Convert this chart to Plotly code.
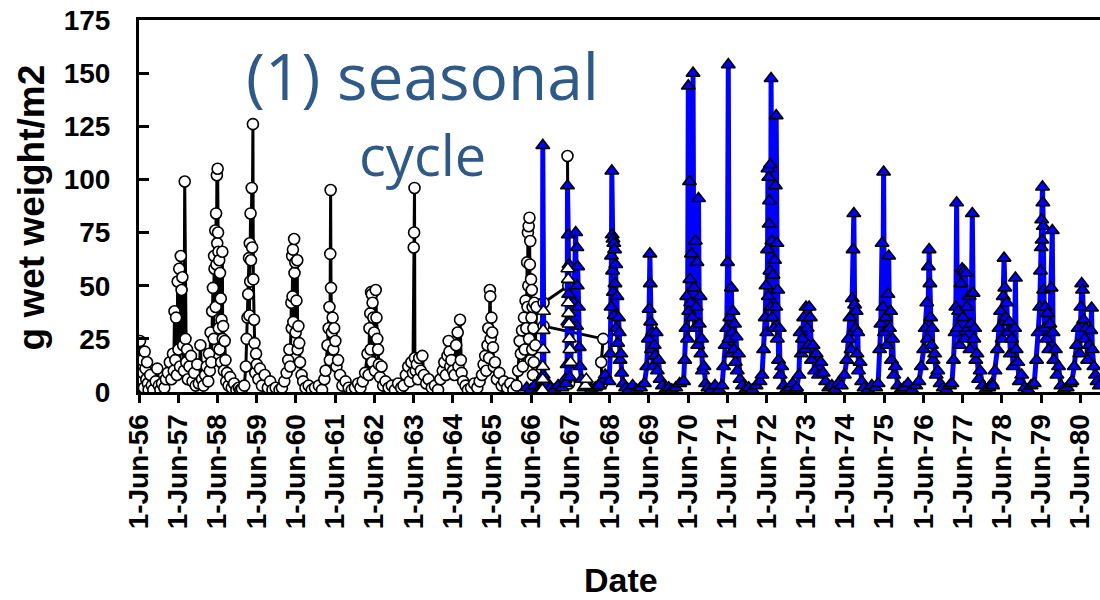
import datetime as dt
import plotly.graph_objects as go

# ---------------- data (decimal year, g wet weight/m2) ----------------
circ_year = [
    1956.44, 1956.46, 1956.48, 1956.50, 1956.52, 1956.54, 1956.56, 1956.58, 1956.60, 1956.62,
    1956.64, 1956.66, 1956.70, 1956.74, 1956.78, 1956.84, 1956.88, 1956.92, 1956.96, 1957.00,
    1957.06, 1957.10, 1957.15, 1957.20, 1957.24,
    1957.28, 1957.30, 1957.32, 1957.34, 1957.36, 1957.38, 1957.40, 1957.42, 1957.44, 1957.46,
    1957.48, 1957.50, 1957.52, 1957.54, 1957.56, 1957.58, 1957.60, 1957.62, 1957.64, 1957.66,
    1957.70, 1957.74, 1957.78, 1957.82, 1957.86, 1957.90, 1957.94, 1957.98, 1958.02, 1958.06,
    1958.10,
    1958.14, 1958.18, 1958.20, 1958.22, 1958.24, 1958.26, 1958.28, 1958.30, 1958.32, 1958.33,
    1958.34, 1958.36, 1958.37, 1958.38, 1958.39, 1958.40, 1958.41, 1958.42, 1958.43, 1958.44,
    1958.45, 1958.46, 1958.47, 1958.48, 1958.50, 1958.51, 1958.52, 1958.54, 1958.55, 1958.56,
    1958.58, 1958.60, 1958.62, 1958.64, 1958.66, 1958.70, 1958.74, 1958.78, 1958.84, 1958.90,
    1958.96, 1959.00,
    1959.04, 1959.10, 1959.14, 1959.16, 1959.18, 1959.20, 1959.22, 1959.23, 1959.24, 1959.25,
    1959.26, 1959.27, 1959.29, 1959.30, 1959.32, 1959.33, 1959.35, 1959.36, 1959.38, 1959.40,
    1959.42, 1959.46, 1959.50, 1959.55, 1959.62, 1959.70, 1959.76, 1959.82, 1959.90, 1960.00,
    1960.06, 1960.12, 1960.18, 1960.22, 1960.25, 1960.27, 1960.30, 1960.31, 1960.32, 1960.33,
    1960.34, 1960.35, 1960.37, 1960.38, 1960.40, 1960.41, 1960.43, 1960.45, 1960.46, 1960.48,
    1960.50, 1960.52, 1960.56, 1960.60, 1960.66, 1960.74, 1960.82, 1960.90, 1961.00, 1961.08,
    1961.14, 1961.17, 1961.22, 1961.25, 1961.27, 1961.28, 1961.29, 1961.30, 1961.31, 1961.33,
    1961.35, 1961.37, 1961.39, 1961.42, 1961.45, 1961.49, 1961.54, 1961.60, 1961.68, 1961.76,
    1961.84, 1961.92, 1962.00, 1962.06, 1962.12,
    1962.18, 1962.24, 1962.27, 1962.29, 1962.31, 1962.32, 1962.33, 1962.35, 1962.36, 1962.37,
    1962.39, 1962.41, 1962.43, 1962.45, 1962.47, 1962.49, 1962.51, 1962.53, 1962.56, 1962.60,
    1962.64, 1962.70, 1962.78, 1962.86, 1962.94, 1963.02, 1963.10,
    1963.16, 1963.22, 1963.28, 1963.32, 1963.36, 1963.40, 1963.42, 1963.43, 1963.44, 1963.45,
    1963.47, 1963.50, 1963.53, 1963.56, 1963.60, 1963.64, 1963.68, 1963.74, 1963.80, 1963.88,
    1963.96, 1964.04,
    1964.10, 1964.16, 1964.20, 1964.24, 1964.28, 1964.31, 1964.33, 1964.35, 1964.38, 1964.42,
    1964.46, 1964.50, 1964.54, 1964.56, 1964.60, 1964.62, 1964.64, 1964.68, 1964.74, 1964.80,
    1964.88, 1964.96, 1965.04,
    1965.10, 1965.16, 1965.20, 1965.24, 1965.27, 1965.30, 1965.32, 1965.34, 1965.36, 1965.37,
    1965.38, 1965.40, 1965.42, 1965.44, 1965.46, 1965.49, 1965.54, 1965.60, 1965.66, 1965.72,
    1965.80, 1965.88, 1965.96, 1966.04,
    1966.08, 1966.12, 1966.15, 1966.18, 1966.20, 1966.23, 1966.25, 1966.27, 1966.29, 1966.31,
    1966.32, 1966.33, 1966.34, 1966.35, 1966.36, 1966.37, 1966.38, 1966.39, 1966.40, 1966.41,
    1966.42, 1966.43, 1966.44, 1966.45, 1966.46, 1966.47, 1966.48, 1966.49, 1966.52, 1966.55,
    1966.73, 1967.36, 1967.34, 1967.38,
    1966.73, 1966.73, 1968.25, 1968.20, 1968.22,
]
circ_val = [
    24, 12, 5, 15, 9, 2, 19, 11, 6, 14,
    4, 1, 8, 3, 1, 5, 11, 3, 1, 4,
    2, 6, 9, 14, 6,
    18, 10, 38, 15, 35, 8, 52, 20, 58, 12,
    64, 48, 54, 22, 10, 99, 25, 14, 20, 6,
    12, 17, 5, 9, 3, 13, 4, 22, 6, 3,
    8,
    12, 5, 18, 10, 28, 14, 38, 49, 25, 64,
    58, 76, 40, 84, 60, 102, 70, 105, 75, 66,
    30, 62, 20, 56, 44, 14, 34, 66, 25, 31,
    10, 24, 15, 5, 9, 3, 7, 2, 4, 1,
    2, 1,
    1.5, 3, 12, 25, 35, 46, 63, 36, 70, 52,
    84, 62, 96, 68, 126, 53, 34, 23, 9, 18,
    13, 6, 11, 3, 8, 2, 5, 1, 2, 1,
    2, 5, 9, 15, 20, 12, 42, 30, 64, 45,
    67, 33, 72, 56, 61, 28, 43, 62, 20, 31,
    23, 14, 8, 5, 2, 3, 1, 2, 3, 1,
    6, 10, 22, 30, 40, 15, 65, 95, 49, 28,
    35, 20, 30, 24, 12, 15, 8, 3, 5, 2,
    1, 2, 4, 2, 5,
    9, 18, 8, 30, 37, 20, 47, 46, 14, 42,
    35, 28, 10, 48, 35, 25, 20, 13, 7, 12,
    3, 5, 2, 3, 1, 4, 2,
    3, 8, 12, 5, 14, 9, 68, 75, 96, 16,
    10, 13, 6, 16, 10, 17, 8, 4, 6, 2,
    3, 1,
    6, 10, 14, 8, 17, 24, 19, 12, 15, 10,
    8, 22, 28, 12, 34, 15, 9, 5, 3, 1,
    2, 4, 2,
    5, 8, 13, 17, 10, 22, 30, 16, 48, 45,
    25, 35, 28, 21, 12, 14, 6, 9, 3, 5,
    2, 4, 1, 3,
    10, 24, 18, 29, 12, 35, 20, 43, 30, 61,
    40, 75, 50, 78, 25, 82, 60, 71, 15, 53,
    35, 48, 20, 40, 8, 30, 14, 42, 22, 40,
    42, 50, 111, 4,
    None, 31, 25, 14, 4,
]

wtri_year = [1966.70, 1966.71, 1966.71, 1966.72, 1966.72, 1966.73,
             1967.35, 1967.36, 1967.36, 1967.37, 1967.38, 1967.39, 1967.40, 1967.42,
             1967.80, 1967.82]
wtri_val = [1, 6, 12, 20, 29, 38,
            58, 53, 42, 37, 32, 25, 20, 14,
            3, 6]

blue_year = [
    1966.30, 1966.40, 1966.50, 1966.60, 1966.68, 1966.70, 1966.71, 1966.72, 1966.74, 1966.78,
    1966.84, 1966.90, 1967.00, 1967.10, 1967.20, 1967.28,
    1967.30, 1967.33, 1967.34, 1967.35, 1967.36, 1967.37, 1967.38, 1967.40, 1967.50, 1967.55,
    1967.57, 1967.58, 1967.59, 1967.60, 1967.62, 1967.64, 1967.66, 1967.70, 1967.76, 1967.84,
    1967.95, 1968.05, 1968.15, 1968.30,
    1968.40, 1968.43, 1968.45, 1968.46, 1968.47, 1968.48, 1968.49, 1968.50, 1968.51, 1968.52,
    1968.53, 1968.54, 1968.55, 1968.57, 1968.58, 1968.60, 1968.62, 1968.64, 1968.66, 1968.68,
    1968.70, 1968.72, 1968.76, 1968.82, 1968.90, 1969.00, 1969.10, 1969.20,
    1969.30, 1969.36, 1969.40, 1969.42, 1969.44, 1969.45, 1969.46, 1969.48, 1969.50, 1969.52,
    1969.55, 1969.57, 1969.60, 1969.63, 1969.66, 1969.70, 1969.76, 1969.84, 1969.92, 1970.00,
    1970.10, 1970.20,
    1970.30, 1970.33, 1970.36, 1970.38, 1970.40, 1970.42, 1970.43, 1970.45, 1970.46, 1970.48,
    1970.50, 1970.52, 1970.54, 1970.56, 1970.58, 1970.60, 1970.62, 1970.64, 1970.66, 1970.68,
    1970.70, 1970.72, 1970.74, 1970.76, 1970.78, 1970.82, 1970.86, 1970.92, 1971.00, 1971.10,
    1971.20,
    1971.28, 1971.32, 1971.36, 1971.40, 1971.42, 1971.44, 1971.46, 1971.48, 1971.50, 1971.52,
    1971.54, 1971.56, 1971.58, 1971.60, 1971.62, 1971.64, 1971.67, 1971.70, 1971.74, 1971.80,
    1971.88, 1971.96, 1972.05, 1972.15, 1972.25,
    1972.30, 1972.34, 1972.38, 1972.40, 1972.42, 1972.44, 1972.45, 1972.46, 1972.47, 1972.48,
    1972.49, 1972.50, 1972.51, 1972.52, 1972.53, 1972.55, 1972.56, 1972.58, 1972.60, 1972.62,
    1972.64, 1972.65, 1972.66, 1972.68, 1972.69, 1972.70, 1972.72, 1972.74, 1972.76, 1972.80,
    1972.85, 1972.92, 1973.00, 1973.08, 1973.16,
    1973.18, 1973.24, 1973.27, 1973.30, 1973.33, 1973.36, 1973.40, 1973.42, 1973.45, 1973.48,
    1973.50, 1973.53, 1973.56, 1973.60, 1973.64, 1973.68, 1973.74, 1973.80, 1973.86, 1973.92,
    1974.00, 1974.08, 1974.16, 1974.24,
    1974.32, 1974.40, 1974.46, 1974.50, 1974.54, 1974.57, 1974.60, 1974.62, 1974.64, 1974.66,
    1974.68, 1974.70, 1974.72, 1974.74, 1974.76, 1974.80, 1974.84, 1974.90, 1975.00, 1975.10,
    1975.20,
    1975.26, 1975.30, 1975.33, 1975.36, 1975.38, 1975.40, 1975.42, 1975.45, 1975.48, 1975.51,
    1975.53, 1975.55, 1975.58, 1975.60, 1975.63, 1975.66, 1975.70, 1975.76, 1975.84, 1975.92,
    1976.02, 1976.12, 1976.22,
    1976.30, 1976.36, 1976.42, 1976.46, 1976.50, 1976.52, 1976.54, 1976.56, 1976.58, 1976.60,
    1976.62, 1976.64, 1976.66, 1976.70, 1976.74, 1976.78, 1976.84, 1976.92, 1977.00, 1977.08,
    1977.14, 1977.18, 1977.22, 1977.24, 1977.26, 1977.28, 1977.31, 1977.34, 1977.37, 1977.40,
    1977.42, 1977.45, 1977.47, 1977.50, 1977.52, 1977.55, 1977.58, 1977.60, 1977.63, 1977.66,
    1977.68, 1977.70, 1977.72, 1977.75, 1977.78, 1977.82, 1977.86, 1977.92, 1978.00, 1978.08,
    1978.16,
    1978.18, 1978.24, 1978.30, 1978.34, 1978.38, 1978.42, 1978.45, 1978.47, 1978.49, 1978.51,
    1978.54, 1978.57, 1978.60, 1978.63, 1978.66, 1978.70, 1978.74, 1978.76, 1978.78, 1978.82,
    1978.86, 1978.92, 1979.00, 1979.08, 1979.16,
    1979.24, 1979.30, 1979.34, 1979.38, 1979.40, 1979.42, 1979.43, 1979.44, 1979.45, 1979.46,
    1979.47, 1979.48, 1979.50, 1979.52, 1979.55, 1979.58, 1979.61, 1979.64, 1979.67, 1979.70,
    1979.72, 1979.74, 1979.78, 1979.82, 1979.86, 1979.92, 1980.00, 1980.08, 1980.16,
    1980.20, 1980.26, 1980.32, 1980.36, 1980.40, 1980.43, 1980.45, 1980.47, 1980.50, 1980.53,
    1980.56, 1980.60, 1980.64, 1980.68, 1980.70, 1980.72, 1980.76, 1980.80, 1980.84, 1980.90,
]
blue_val = [
    2, 1, 3, 1, 2, 5, 116, 8, 3, 1,
    4, 2, 1, 3, 2, 6,
    4, 13, 97, 33, 74, 46, 60, 7, 42, 75,
    31, 68, 50, 59, 40, 21, 12, 6, 2, 4,
    1, 2, 3, 8,
    5, 18, 40, 64, 104, 74, 57, 72, 47, 70,
    36, 67, 51, 60, 30, 45, 23, 35, 28, 15,
    18, 9, 4, 2, 1, 3, 1, 2,
    4, 12, 25, 39, 65, 51, 33, 20, 28, 12,
    22, 17, 28, 10, 15, 6, 3, 1, 2, 1,
    2, 4,
    5, 15, 30, 45, 25, 144, 38, 99, 53, 42,
    65, 35, 150, 49, 30, 71, 40, 61, 22, 91,
    32, 45, 18, 25, 10, 12, 4, 2, 1, 3,
    1,
    3, 12, 22, 30, 61, 154, 25, 35, 18, 49,
    28, 38, 20, 32, 14, 26, 10, 18, 6, 3,
    1, 2, 1, 3, 5,
    8, 20, 35, 50, 28, 67, 105, 45, 101, 79,
    90, 57, 107, 40, 147.5, 71, 35, 55, 30, 62,
    97, 40, 130, 70, 25, 48, 15, 30, 8, 12,
    3, 1, 2, 4, 1,
    2, 8, 28, 18, 25, 35, 20, 40, 30, 22,
    40, 35, 15, 22, 10, 18, 8, 14, 9, 5,
    2, 3, 1, 4,
    3, 8, 15, 25, 35, 20, 44, 67, 84, 41,
    30, 38, 18, 28, 10, 14, 5, 2, 1, 3,
    2,
    4, 20, 32, 70, 40, 103.5, 28, 35, 22, 46,
    64, 30, 38, 15, 25, 8, 12, 3, 1, 2,
    4, 1, 3,
    5, 12, 20, 30, 42, 25, 59, 67, 51, 35,
    22, 30, 15, 18, 8, 10, 4, 2, 1, 3,
    4, 15, 28, 40, 89, 30, 38, 22, 51, 58,
    35, 57, 25, 56, 40, 30, 45, 20, 32, 84,
    46.5, 25, 30, 15, 18, 6, 10, 3, 1, 2,
    4,
    3, 10, 20, 30, 38, 25, 45, 63, 49, 35,
    42, 28, 33, 18, 25, 12, 30, 53.6, 20, 14,
    5, 8, 2, 1, 3,
    4, 15, 28, 40, 57, 68, 81, 71.5, 96.5, 89,
    78, 48, 30, 40, 25, 37, 20, 32, 49, 76,
    28, 15, 20, 8, 12, 3, 1, 2, 4,
    5, 12, 22, 30, 18, 40, 51, 48, 34, 25,
    30, 15, 22, 29, 39.5, 20, 12, 8, 5, 3,
]

tick_years = list(range(1956, 1981))
tick_labels = ["1-Jun-%02d" % (y % 100) for y in tick_years]


def to_date(y):
    yr = int(y)
    start = dt.datetime(yr, 1, 1)
    days = (dt.datetime(yr + 1, 1, 1) - start).days
    return start + dt.timedelta(days=(y - yr) * days)


FONT = "Liberation Sans, Arial, sans-serif"
BLUE = "#0000FF"

fig = go.Figure()

fig.add_trace(go.Scatter(
    x=[to_date(v) for v in circ_year], y=circ_val, mode="lines+markers",
    connectgaps=False,
    line=dict(color="black", width=3),
    marker=dict(symbol="circle", size=11, color="white",
                line=dict(color="black", width=1.6)),
    showlegend=False))

fig.add_trace(go.Scatter(
    x=[to_date(v) for v in blue_year], y=blue_val, mode="lines+markers",
    line=dict(color=BLUE, width=5),
    marker=dict(symbol="triangle-up", size=12, color=BLUE,
                line=dict(color="black", width=1.6)),
    showlegend=False))

fig.add_trace(go.Scatter(
    x=[to_date(v) for v in wtri_year], y=wtri_val, mode="markers",
    marker=dict(symbol="triangle-up", size=12, color="white",
                line=dict(color="black", width=1.6)),
    showlegend=False))

fig.update_layout(
    width=1100, height=600,
    margin=dict(l=139, r=0, t=20, b=208),
    plot_bgcolor="white", paper_bgcolor="white",
    xaxis=dict(
        type="date", automargin=False,
        range=[dt.datetime(1956, 6, 1), dt.datetime(1980, 12, 1)],
        tickvals=[dt.datetime(y, 6, 1) for y in tick_years],
        ticktext=tick_labels,
        tickangle=-90,
        ticks="outside", ticklen=8, tickwidth=2.5, tickcolor="black",
        showline=True, linewidth=3, linecolor="black", mirror=True,
        showgrid=False, zeroline=False,
        tickfont=dict(family=FONT, size=28, color="black", weight="bold"),
    ),
    yaxis=dict(
        automargin=False,
        range=[0, 175], tickvals=[0, 25, 50, 75, 100, 125, 150, 175],
        ticks="inside", ticklen=10, tickwidth=2.5, tickcolor="black",
        showline=True, linewidth=3, linecolor="black",
        showgrid=False, zeroline=False,
        ticklabelstandoff=20, ticklabeloverflow="allow",
        tickfont=dict(family=FONT, size=28, color="black", weight="bold"),
    ),
    annotations=[
        dict(text="g wet weight/m2", xref="paper", yref="paper",
             x=-0.112, y=0.497, xanchor="center", yanchor="middle",
             textangle=-90, showarrow=False,
             font=dict(family=FONT, size=37, color="black", weight="bold")),
        dict(text="Date", xref="paper", yref="paper",
             x=0.5016, y=-0.505, xanchor="center", yanchor="middle",
             showarrow=False,
             font=dict(family=FONT, size=34, color="black", weight="bold")),
        dict(text="(1) seasonal", xref="paper", yref="paper",
             x=0.2945, y=0.85, xanchor="center", yanchor="middle",
             showarrow=False,
             font=dict(family="Open Sans", size=64, color="#2F5A87")),
        dict(text="cycle", xref="paper", yref="paper",
             x=0.2945, y=0.64, xanchor="center", yanchor="middle",
             showarrow=False,
             font=dict(family="Open Sans", size=56, color="#2F5A87")),
    ],
)

# remove the default 8px page margin so the figure sits at the window's corner
fig.write_html("out.html", config={"displayModeBar": False},
               post_script="document.body.style.margin='0';")
